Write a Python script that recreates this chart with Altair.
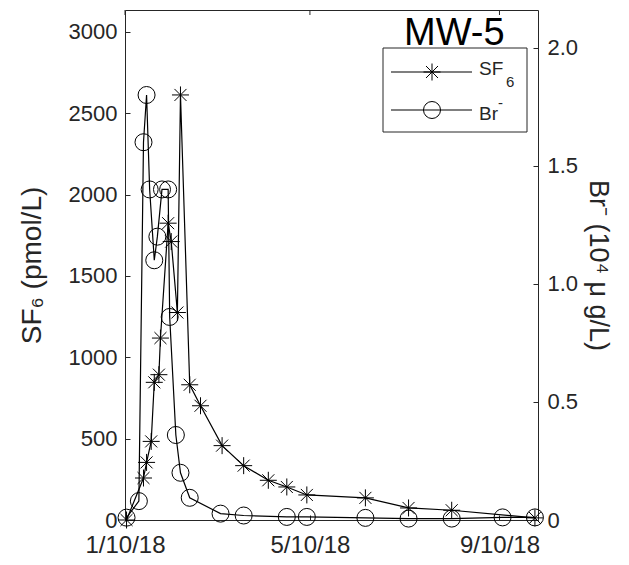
import altair as alt
import pandas as pd

# ---------------- data ----------------
sf6_dates = ["2018-01-11", "2018-01-22", "2018-01-24", "2018-01-27", "2018-01-29",
             "2018-02-01", "2018-02-02", "2018-02-07", "2018-02-09", "2018-02-13",
             "2018-02-15", "2018-02-21", "2018-02-28", "2018-03-14", "2018-03-28",
             "2018-04-13", "2018-04-25", "2018-05-08", "2018-06-15", "2018-07-13",
             "2018-08-10", "2018-10-03"]
sf6_values = [0, 258, 354, 483, 846, 893, 1118, 1824, 1711, 1275, 2612, 831, 702,
              457, 334, 244, 203, 154, 136, 74, 60, 13]

br_dates = ["2018-01-11", "2018-01-19", "2018-01-22", "2018-01-24", "2018-01-26",
            "2018-01-29", "2018-01-31", "2018-02-03", "2018-02-07", "2018-02-08",
            "2018-02-12", "2018-02-15", "2018-02-21", "2018-03-13", "2018-03-28",
            "2018-04-25", "2018-05-08", "2018-06-15", "2018-07-13", "2018-08-10",
            "2018-09-12", "2018-10-03"]
br_values = [0.01, 0.08, 1.60, 1.80, 1.40, 1.10, 1.20, 1.40, 1.40, 0.86, 0.36, 0.20,
             0.094, 0.027, 0.019, 0.013, 0.013, 0.009, 0.006, 0.006, 0.011, 0.011]

x_tick_dates = ["2018-01-10", "2018-05-10", "2018-09-10"]
x_domain = ["2018-01-10", "2018-10-05"]
sf6_ticks = [0, 500, 1000, 1500, 2000, 2500, 3000]
br_ticks = [0, 0.5, 1.0, 1.5, 2.0]
sf6_domain = [0, 3134]
br_domain = [0, 2.16]

# legend labels as (main text, sub/superscript) pairs
legend_main = ["SF", "Br"]
legend_script = ["6", "-"]
panel_title = "MW-5"
left_title = "SF₆ (pmol/L)"
right_title = "Br⁻ (10⁴ μ g/L)"

# ---------------- styling ----------------
TEXT = "#262626"
FONT = "Liberation Sans"
STAR = "M-1,0L1,0M0,-1L0,1M-0.7071,-0.7071L0.7071,0.7071M-0.7071,0.7071L0.7071,-0.7071"
YTICK_FS = 22
XTICK_FS = 24
TITLE_FS = 28
MSIZE = 289
LW = 1.2


def dt(s):
    y, m, d = map(int, s.split("-"))
    return alt.DateTime(year=y, month=m, date=d)


sf6_df = pd.DataFrame({"date": [d + "T00:00:00" for d in sf6_dates], "sf6": sf6_values})
br_df = pd.DataFrame({"date": [d + "T00:00:00" for d in br_dates], "br": br_values})
tick_df = pd.DataFrame({"date": [d + "T00:00:00" for d in x_tick_dates]})
one = pd.DataFrame({"a": [0]})

x_enc = alt.X(
    "date:T",
    scale=alt.Scale(domain=[dt(d) for d in x_domain]),
    axis=alt.Axis(values=[dt(d) for d in x_tick_dates], format="%-m/%d/%y", title=None,
                  labelFlush=False, labelOverlap=False, offset=-5, tickSize=5,
                  domain=False, grid=False, labelFontSize=XTICK_FS, labelPadding=13,
                  labelColor=TEXT, tickColor=TEXT, labelFont=FONT),
)

y_sf6 = alt.Y(
    "sf6:Q",
    scale=alt.Scale(domain=sf6_domain, nice=False, zero=False),
    axis=alt.Axis(orient="left", values=sf6_ticks, format="d", title=left_title,
                  offset=-5, tickSize=5, domain=False, grid=False,
                  labelFontSize=YTICK_FS, labelPadding=8, labelColor=TEXT, tickColor=TEXT,
                  labelFont=FONT, titleFont=FONT, titleFontSize=TITLE_FS,
                  titleFontWeight="normal", titleColor=TEXT, titlePadding=22),
)

y_br = alt.Y(
    "br:Q",
    scale=alt.Scale(domain=br_domain, nice=False, zero=False),
    axis=alt.Axis(orient="right", values=br_ticks,
                  labelExpr="datum.value == 0 ? '0' : format(datum.value, '.1f')",
                  title=right_title, offset=-5, tickSize=5, domain=False, grid=False,
                  labelFontSize=YTICK_FS, labelPadding=9, labelColor=TEXT, tickColor=TEXT,
                  labelFont=FONT, titleFont=FONT, titleFontSize=TITLE_FS - 1,
                  titleFontWeight="normal", titleColor=TEXT, titlePadding=6),
)

sf6_line = alt.Chart(sf6_df).mark_line(color="black", strokeWidth=LW).encode(x=x_enc, y=y_sf6)
sf6_pts = alt.Chart(sf6_df).mark_point(shape=STAR, size=MSIZE, filled=False, color="black",
                                       strokeWidth=1, opacity=1).encode(x=x_enc, y=y_sf6)
br_line = alt.Chart(br_df).mark_line(color="black", strokeWidth=LW).encode(x=x_enc, y=y_br)
br_pts = alt.Chart(br_df).mark_point(shape="circle", size=MSIZE, filled=False, color="black",
                                     strokeWidth=1, opacity=1).encode(x=x_enc, y=y_br)

top_ticks = alt.Chart(tick_df).mark_rule(color=TEXT, strokeWidth=1).encode(
    x=x_enc, y=alt.value(0), y2=alt.value(5))

# legend box (drawn by hand, MATLAB-style)
leg_box = alt.Chart(one).mark_rect(fill="white", stroke=TEXT, strokeWidth=1).encode(
    x=alt.value(258), x2=alt.value(402), y=alt.value(38), y2=alt.value(122))
leg_l1 = alt.Chart(one).mark_rule(color="black", strokeWidth=LW).encode(
    x=alt.value(266), x2=alt.value(347), y=alt.value(62))
leg_l2 = alt.Chart(one).mark_rule(color="black", strokeWidth=LW).encode(
    x=alt.value(266), x2=alt.value(347), y=alt.value(100))
leg_s1 = alt.Chart(one).mark_point(shape=STAR, size=MSIZE, filled=False, color="black",
                                   strokeWidth=1, opacity=1).encode(
    x=alt.value(307), y=alt.value(62))
leg_s2 = alt.Chart(one).mark_point(shape="circle", size=MSIZE, filled=False, color="black",
                                   strokeWidth=1, opacity=1).encode(
    x=alt.value(307), y=alt.value(100))
leg_t1 = alt.Chart(one).mark_text(text=legend_main[0], align="left", baseline="alphabetic",
                                  font=FONT, fontSize=19, color=TEXT).encode(
    x=alt.value(354), y=alt.value(65))
leg_t1s = alt.Chart(one).mark_text(text=legend_script[0], align="left", baseline="alphabetic",
                                   font=FONT, fontSize=15, color=TEXT).encode(
    x=alt.value(381), y=alt.value(77))
leg_t2 = alt.Chart(one).mark_text(text=legend_main[1], align="left", baseline="alphabetic",
                                  font=FONT, fontSize=19, color=TEXT).encode(
    x=alt.value(354), y=alt.value(110))
leg_t2s = alt.Chart(one).mark_text(text=legend_script[1], align="left", baseline="alphabetic",
                                   font=FONT, fontSize=15, color=TEXT).encode(
    x=alt.value(373), y=alt.value(98))

title_txt = alt.Chart(one).mark_text(text=panel_title, align="left", baseline="alphabetic",
                                     font=FONT, fontSize=38, color="black").encode(
    x=alt.value(279), y=alt.value(35))

left_layer = alt.layer(sf6_line, sf6_pts, top_ticks)
right_layer = alt.layer(br_line, br_pts)

chart = alt.layer(
    left_layer, right_layer,
    leg_box, leg_l1, leg_l2, leg_s1, leg_s2, leg_t1, leg_t1s, leg_t2, leg_t2s, title_txt,
).resolve_scale(y="independent").properties(
    width=413, height=510,
    padding={"left": 125, "top": 10, "right": 91, "bottom": 45},
    autosize=alt.AutoSizeParams(type="none"),
    background="white",
).configure_view(stroke=TEXT, strokeWidth=1)

chart.save("out.html", embed_options={"renderer": "svg", "actions": False})
